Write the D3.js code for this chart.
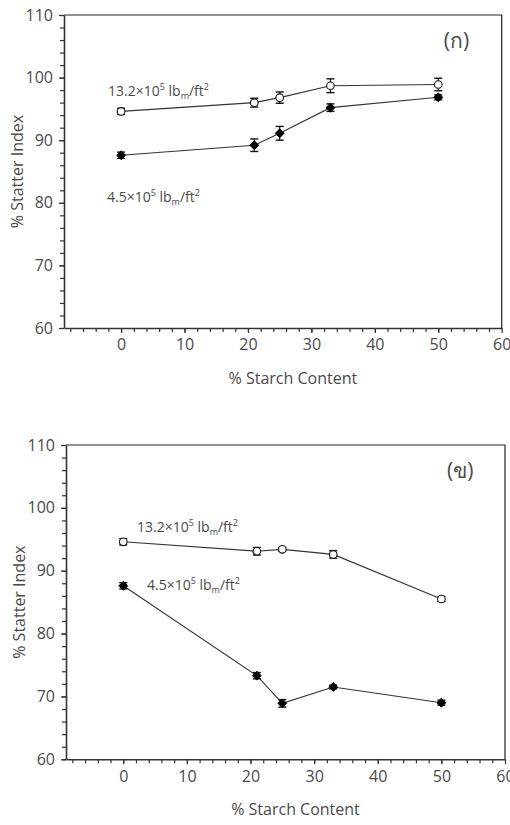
<!DOCTYPE html>
<html>
<head>
<meta charset="utf-8">
<script src="https://cdn.jsdelivr.net/npm/d3@7"></script>
<style>
  html, body { margin: 0; padding: 0; background: #fff; }
  svg { display: block; }
  text { font-family: "Open Sans", "Noto Sans", "DejaVu Sans", sans-serif; fill: #4a4a4a; }
</style>
</head>
<body>
<svg id="chart" width="510" height="825"></svg>
<script>
// Starch content (%) for each sample
const starch = [0, 21, 25, 33, 50];

// Panel (ก): statter index at two compaction pressures
const highA = [94.6, 96.0, 96.8, 98.7, 98.9];
const highAErr = [0.5, 0.7, 0.9, 1.1, 1.0];
const lowA = [87.6, 89.2, 91.1, 95.2, 96.85];
const lowAErr = [0.5, 1.0, 1.1, 0.6, 0.4];

// Panel (ข)
const highB = [94.6, 93.1, 93.4, 92.6, 85.5];
const highBErr = [0.5, 0.6, 0.3, 0.6, 0.4];
const lowB = [87.6, 73.3, 68.9, 71.5, 69.0];
const lowBErr = [0.5, 0.5, 0.6, 0.3, 0.4];

const xTicks = [0, 10, 20, 30, 40, 50, 60];
const yTicks = [60, 70, 80, 90, 100, 110];
const xLabel = "% Starch Content";
const yLabel = "% Statter Index";
const panelNames = ["(ก)", "(ข)"];

const svg = d3.select("#chart");

function pressureLabel(g, x, y, coef) {
  const t = g.append("text").attr("x", x).attr("y", y).style("font-size", "14px");
  t.append("tspan").text(coef + "×10");
  t.append("tspan").attr("dy", -6).style("font-size", "9px").text("5");
  t.append("tspan").attr("dy", 6).text(" lb");
  t.append("tspan").attr("dy", 3).style("font-size", "9px").text("m");
  t.append("tspan").attr("dy", -3).text("/ft");
  t.append("tspan").attr("dy", -6).style("font-size", "9px").text("2");
}

function panel(opt) {
  const { left, right, top, bottom } = opt;
  const x = d3.scaleLinear().domain([-9, 60]).range([left, right]);
  const y = d3.scaleLinear().domain([60, 110]).range([bottom, top]);
  const g = svg.append("g");

  // frame: top and right edges
  g.append("path")
    .attr("d", `M${left},${top}H${right}V${bottom}`)
    .attr("fill", "none").attr("stroke", "#222").attr("stroke-width", 1.2);

  // minor ticks
  const xAxisMinor = d3.axisBottom(x).tickValues(d3.range(-8, 60, 2)).tickSize(4).tickFormat("");
  const yAxisMinor = d3.axisLeft(y).tickValues(d3.range(60, 111, 2)).tickSize(4).tickFormat("");
  g.append("g").attr("transform", `translate(0,${bottom})`).call(xAxisMinor)
    .call(s => s.select(".domain").remove())
    .call(s => s.selectAll("line").attr("stroke", "#333").attr("stroke-width", 1.2));
  g.append("g").attr("transform", `translate(${left},0)`).call(yAxisMinor)
    .call(s => s.select(".domain").remove())
    .call(s => s.selectAll("line").attr("stroke", "#333").attr("stroke-width", 1.2));

  // major ticks with labels
  const xAxis = d3.axisBottom(x).tickValues(xTicks).tickSize(5).tickSizeOuter(0).tickPadding(6);
  const yAxis = d3.axisLeft(y).tickValues(yTicks).tickSize(5).tickSizeOuter(0).tickPadding(6);
  const gx = g.append("g").attr("transform", `translate(0,${bottom})`).call(xAxis);
  const gy = g.append("g").attr("transform", `translate(${left},0)`).call(yAxis);
  [gx, gy].forEach(a => {
    a.select(".domain").attr("stroke", "#333").attr("stroke-width", 1.6);
    a.selectAll("line").attr("stroke", "#333").attr("stroke-width", 1.2);
    a.selectAll("text").style("font-size", "16px").style("font-family", null).attr("fill", "#4a4a4a");
  });

  g.append("text").attr("x", (x(-9) + x(60)) / 2 + 10).attr("y", bottom + 56)
    .attr("text-anchor", "middle").style("font-size", "16px").text(xLabel);
  g.append("text")
    .attr("transform", `translate(${left - 41},${(top + bottom) / 2}) rotate(-90)`)
    .attr("text-anchor", "middle").style("font-size", "16px").text(yLabel);

  g.append("text").attr("x", right - 58).attr("y", top + 33)
    .style("font-size", "21px").text(opt.name);

  const line = d3.line().x((d, i) => x(starch[i])).y(d => y(d));

  function series(vals, errs, filled) {
    g.append("path").datum(vals).attr("d", line)
      .attr("fill", "none").attr("stroke", "#333").attr("stroke-width", 1.1);
    const pts = g.append("g").selectAll("g").data(vals).join("g")
      .attr("transform", (d, i) => `translate(${x(starch[i])},0)`);
    pts.append("line")
      .attr("y1", (d, i) => y(d - errs[i])).attr("y2", (d, i) => y(d + errs[i]))
      .attr("stroke", "#111").attr("stroke-width", 1.2);
    ["-", "+"].forEach(sgn => {
      pts.append("line").attr("x1", -4).attr("x2", 4)
        .attr("y1", (d, i) => y(sgn === "+" ? d + errs[i] : d - errs[i]))
        .attr("y2", (d, i) => y(sgn === "+" ? d + errs[i] : d - errs[i]))
        .attr("stroke", "#111").attr("stroke-width", 1.4);
    });
    if (filled) {
      pts.append("path")
        .attr("d", d3.symbol(d3.symbolDiamond2, 50))
        .attr("transform", d => `translate(0,${y(d)})`)
        .attr("fill", "#000").attr("stroke", "#000").attr("stroke-width", 1);
    } else {
      pts.append("circle").attr("cy", d => y(d)).attr("r", 3.8)
        .attr("fill", "#fff").attr("stroke", "#111").attr("stroke-width", 1.1);
    }
  }
  series(opt.high, opt.highErr, false);
  series(opt.low, opt.lowErr, true);

  pressureLabel(g, opt.hiLab[0], opt.hiLab[1], "13.2");
  pressureLabel(g, opt.loLab[0], opt.loLab[1], "4.5");
}

panel({ left: 64, right: 501.7, top: 15, bottom: 328, name: panelNames[0],
  high: highA, highErr: highAErr, low: lowA, lowErr: lowAErr,
  hiLab: [108, 96], loLab: [107, 202] });
panel({ left: 66, right: 505, top: 445, bottom: 759.3, name: panelNames[1],
  high: highB, highErr: highBErr, low: lowB, lowErr: lowBErr,
  hiLab: [137, 532], loLab: [147, 590] });
</script>
</body>
</html>
